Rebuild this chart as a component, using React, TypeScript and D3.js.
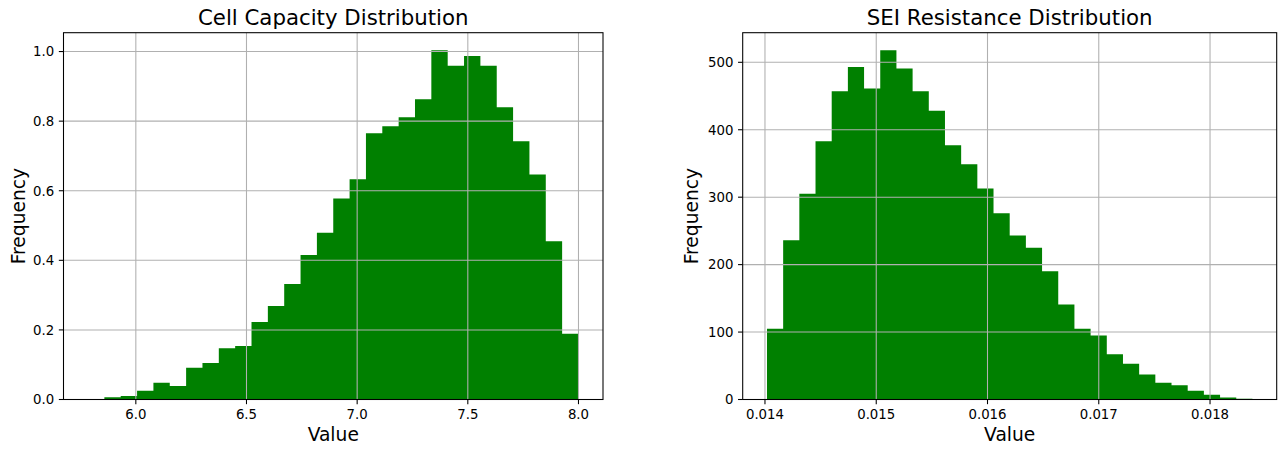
import React from 'react';
import * as d3 from 'd3';

// Cell capacity histogram (density), 30 equal bins
const capacityRange: [number, number] = [5.784, 8.0];
const capacityDensity = [
  0.001, 0.0066, 0.010, 0.025, 0.048, 0.039, 0.091, 0.105, 0.147, 0.154,
  0.223, 0.269, 0.332, 0.415, 0.479, 0.578, 0.633, 0.765, 0.785, 0.811,
  0.863, 1.004, 0.959, 0.987, 0.959, 0.840, 0.742, 0.647, 0.455, 0.189,
];
const capacityXTicks = [6.0, 6.5, 7.0, 7.5, 8.0];
const capacityYTicks = [0.0, 0.2, 0.4, 0.6, 0.8, 1.0];

// SEI resistance histogram (counts), 30 equal bins
const resistanceRange: [number, number] = [0.014018, 0.018381];
const resistanceCounts = [
  105, 236, 305, 383, 457, 493, 461, 518, 491, 457,
  428, 377, 349, 313, 276, 243, 225, 190, 141, 105,
  95, 67, 53, 37, 25, 21, 13, 7, 3, 1,
];
const resistanceXTicks = [0.014, 0.015, 0.016, 0.017, 0.018];
const resistanceYTicks = [0, 100, 200, 300, 400, 500];

const FONT = '"DejaVu Sans", Verdana, sans-serif';
const LW = 1.07;
const TICK = 4.67;
const PAD = 4.67;

type PanelProps = {
  title: string;
  range: [number, number];
  values: number[];
  xTicks: number[];
  yTicks: number[];
  xFmt: (v: number) => string;
  yFmt: (v: number) => string;
  left: number;
  right: number;
  top: number;
  bottom: number;
  ylabelOffset: number;
};

function HistPanel(p: PanelProps) {
  const n = p.values.length;
  const [lo, hi] = p.range;
  const edges = d3.range(n + 1).map((i) => lo + ((hi - lo) * i) / n);
  const margin = (hi - lo) * 0.05;
  const x = d3.scaleLinear().domain([lo - margin, hi + margin]).range([p.left, p.right]);
  const yMax = (d3.max(p.values) as number) * 1.05;
  const y = d3.scaleLinear().domain([0, yMax]).range([p.bottom, p.top]);
  const cx = (p.left + p.right) / 2;
  const cy = (p.top + p.bottom) / 2;

  // one path for the whole histogram outline so neighbouring bars never show seams
  const area = d3
    .area<number>()
    .curve(d3.curveStepAfter)
    .x((_, i) => x(edges[i]))
    .y0(y(0))
    .y1((v) => y(v));
  const stepValues = [...p.values, p.values[n - 1]];

  return (
    <g>
      <path d={area(stepValues) ?? ''} fill="#008000" />
      {/* grid */}
      {p.xTicks.map((t) => (
        <line key={'gx' + t} x1={x(t)} x2={x(t)} y1={p.top} y2={p.bottom} stroke="#b0b0b0" strokeWidth={LW} />
      ))}
      {p.yTicks.map((t) => (
        <line key={'gy' + t} x1={p.left} x2={p.right} y1={y(t)} y2={y(t)} stroke="#b0b0b0" strokeWidth={LW} />
      ))}
      {/* spines */}
      <rect
        x={p.left}
        y={p.top}
        width={p.right - p.left}
        height={p.bottom - p.top}
        fill="none"
        stroke="#000"
        strokeWidth={LW}
      />
      {/* x ticks */}
      {p.xTicks.map((t) => (
        <g key={'tx' + t}>
          <line x1={x(t)} x2={x(t)} y1={p.bottom} y2={p.bottom + TICK} stroke="#000" strokeWidth={LW} />
          <text x={x(t)} y={p.bottom + TICK + PAD + 10} textAnchor="middle" fontSize={13.3} fontFamily={FONT} fill="#000">
            {p.xFmt(t)}
          </text>
        </g>
      ))}
      {/* y ticks */}
      {p.yTicks.map((t) => (
        <g key={'ty' + t}>
          <line x1={p.left - TICK} x2={p.left} y1={y(t)} y2={y(t)} stroke="#000" strokeWidth={LW} />
          <text
            x={p.left - TICK - PAD}
            y={y(t) + 4.8}
            textAnchor="end"
            fontSize={13.3}
            fontFamily={FONT}
            fill="#000"
          >
            {p.yFmt(t)}
          </text>
        </g>
      ))}
      {/* labels */}
      <text x={cx} y={p.top - 8} textAnchor="middle" fontSize={21.3} fontFamily={FONT} fill="#000">
        {p.title}
      </text>
      <text x={cx} y={441} textAnchor="middle" fontSize={18.67} fontFamily={FONT} fill="#000">
        Value
      </text>
      <text
        transform={`translate(${p.left - p.ylabelOffset},${cy}) rotate(-90)`}
        textAnchor="middle"
        fontSize={18.67}
        fontFamily={FONT}
        fill="#000"
      >
        Frequency
      </text>
    </g>
  );
}

export default function App() {
  const fmt1 = d3.format('.1f');
  const fmt3 = d3.format('.3f');
  const fmtInt = d3.format('d');
  return (
    <svg
      width={1278}
      height={449}
      style={{ position: 'absolute', left: 0, top: 0, background: '#fff' }}
    >
      <rect x={0} y={0} width={1278} height={449} fill="#fff" />
      <HistPanel
        title="Cell Capacity Distribution"
        range={capacityRange}
        values={capacityDensity}
        xTicks={capacityXTicks}
        yTicks={capacityYTicks}
        xFmt={fmt1}
        yFmt={fmt1}
        left={63.5}
        right={603}
        top={32.7}
        bottom={399.5}
        ylabelOffset={38.8}
      />
      <HistPanel
        title="SEI Resistance Distribution"
        range={resistanceRange}
        values={resistanceCounts}
        xTicks={resistanceXTicks}
        yTicks={resistanceYTicks}
        xFmt={fmt3}
        yFmt={fmtInt}
        left={742.7}
        right={1276.7}
        top={32.7}
        bottom={399.5}
        ylabelOffset={44.4}
      />
    </svg>
  );
}
